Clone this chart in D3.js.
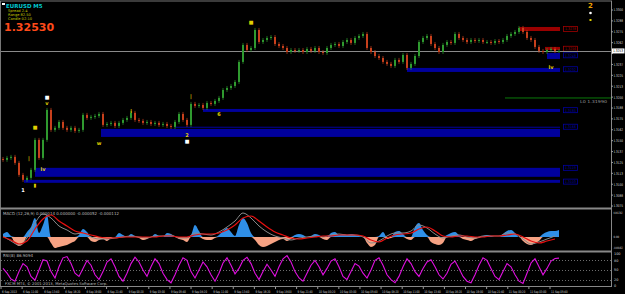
<!DOCTYPE html>
<html><head><meta charset="utf-8">
<script src="https://cdn.jsdelivr.net/npm/d3@7/dist/d3.min.js"></script>
<style>
body{margin:0;background:#000;overflow:hidden}
svg{display:block}
text{font-family:"DejaVu Sans",sans-serif}
</style>
</head><body>
<script>
var W = 625, H = 294;

// EURUSD closes, one per candle
var closes = [1.31280,1.31302,1.31314,1.31245,1.31107,1.31050,1.31073,1.31165,1.31509,1.31302,
1.31509,1.31853,1.31624,1.31647,1.31715,1.31647,1.31624,1.31647,1.31612,1.31624,
1.31796,1.31761,1.31773,1.31784,1.31807,1.31681,1.31692,1.31704,1.31669,1.31704,
1.31738,1.31761,1.31819,1.31738,1.31727,1.31704,1.31715,1.31692,1.31704,1.31681,
1.31692,1.31669,1.31658,1.31715,1.31807,1.31738,1.31681,1.31922,1.31899,1.31910,
1.31876,1.31933,1.31922,1.31956,1.31991,1.32082,1.32105,1.32128,1.32174,1.32404,
1.32599,1.32541,1.32564,1.32771,1.32633,1.32656,1.32679,1.32690,1.32610,1.32587,
1.32564,1.32518,1.32541,1.32530,1.32541,1.32518,1.32553,1.32530,1.32564,1.32518,
1.32507,1.32564,1.32599,1.32610,1.32587,1.32633,1.32656,1.32622,1.32679,1.32702,
1.32725,1.32564,1.32518,1.32472,1.32449,1.32404,1.32381,1.32358,1.32427,1.32404,
1.32484,1.32335,1.32381,1.32472,1.32633,1.32679,1.32702,1.32610,1.32564,1.32518,
1.32599,1.32633,1.32622,1.32725,1.32679,1.32656,1.32633,1.32656,1.32644,1.32656,
1.32633,1.32633,1.32622,1.32644,1.32633,1.32656,1.32702,1.32725,1.32748,1.32794,
1.32748,1.32679,1.32656,1.32576,1.32530,1.32518,1.32541,1.32553,1.32530,1.32530];

var priceTicks = [1.3300,1.32875,1.3275,1.32625,1.3250,1.32375,1.3225,1.32125,1.3200,1.31875,
1.3175,1.31625,1.3150,1.31375,1.3125,1.31125,1.3100,1.30875,1.3075];

var timeLabels = ["6 Sep 2013","6 Sep 11:00","6 Sep 13:40","6 Sep 16:20","6 Sep 19:00","6 Sep 21:40",
"9 Sep 00:20","9 Sep 03:00","9 Sep 05:40","9 Sep 08:20","9 Sep 11:00","9 Sep 13:40","9 Sep 16:20",
"9 Sep 19:00","9 Sep 21:40","10 Sep 00:20","10 Sep 03:00","10 Sep 05:40","10 Sep 08:20","10 Sep 11:00",
"10 Sep 13:40","10 Sep 16:20","10 Sep 19:00","10 Sep 21:40","11 Sep 00:20","11 Sep 03:00","11 Sep 05:40"];

// supply / demand zones: start candle, top, bottom
var blueZones = [[101,1.32335,1.32289],[50,1.31864,1.31830],[24.5,1.31635,1.31543],[43,1.31660,1.31650],
[8,1.31188,1.31085],[5.25,1.31050,1.31016],[136,1.32507,1.32438]];
var redZones = [[129,1.32805,1.32759],[135.5,1.32576,1.32541]];
var zoneBoxes = [[1.32783,"1.3278","#a00000"],[1.32555,"1.3256","#a00000"],[1.32480,"1.3248","#0000a0"],
[1.32320,"1.3232","#0000a0"],[1.31850,"1.3185","#0000a0"],[1.31660,"1.3166","#0000a0"],
[1.31188,"1.3119","#0000a0"],[1.31030,"1.3103","#0000a0"]];

// zigzag / fractal marks: candle, price, glyph, colour
var marks = [[5,1.30935,"1","#fff"],[8,1.30993,"\u25AE","#e0d000"],[10,1.31176,"lv","#e0d000"],
[6.5,1.31302,"|","#e0d000"],[8,1.31658,"\u25A0","#e0d000"],[11,1.32002,"\u25A0","#fff"],
[11,1.31933,"v","#e0d000"],[24,1.31474,"w","#e0d000"],[32,1.31842,"i","#e0d000"],
[46,1.31566,"2","#e0d000"],[46,1.31497,"\u25A0","#fff"],[47,1.32014,"|","#e0d000"],
[54,1.31807,"6","#e0d000"],[62,1.32862,"\u25A0","#e0d000"],[137,1.32346,"lv","#e0d000"]];

var macdHist = [0.00015,0.00025,0.00005,-0.0003,-0.00045,-0.00035,0.00025,0.0005,0.00095,0.0002,
0.0006,0.0011,-0.0003,-0.00055,-0.0005,-0.00045,-0.0004,-0.0003,-0.0002,0.0001,
0.0004,0.00025,-0.0002,-0.00025,-0.00015,-0.0001,-0.0002,-0.00005,0,0.0002,
0.0001,0,0.00015,0.00005,-0.00005,-0.00015,-0.0001,0,0.00015,0.00005,
0,0.0002,0.00015,0,-0.0001,-0.00015,-0.00025,0.0001,0.0006,0.0003,
-0.0001,-0.00015,-0.00015,-0.00005,0.0001,0.0003,0.00045,0.00025,0.00005,0.0006,
0.00095,0.0007,0.0002,-0.00015,-0.0004,-0.0005,-0.00045,-0.00035,-0.00025,-0.00015,
-0.0001,-0.0002,-0.0001,0.0001,0.00015,0.0001,0,0.00005,0.00015,0.0001,
-0.0001,-0.00015,0.0002,0.00025,0.0001,0.00015,0.0001,0.00015,0.0001,0.00005,
0,-0.0003,-0.0005,-0.0004,0.00005,0.00025,-0.0001,-0.00005,0.00025,0.0003,
0.00015,-0.0001,-0.00015,0.0005,0.0007,0.00035,0.0001,-0.00025,-0.00035,-0.0004,
-0.0003,0.0001,0.0002,0.00025,0.0001,-0.0001,-0.00015,-0.0002,-0.0001,-0.00005,
0.00005,0.0001,0.00005,0,0,0.00015,0.0003,0.00035,0.0002,0,
-0.0002,-0.00035,-0.0004,-0.0003,-0.0002,0.00015,0.00025,0.0003,0.0003,0.00035];

var macdMain = [0.00005,-0.0002,-0.0004,-0.00005,0.0007,0.00115,0.00095,0.00055,0.00035,0.00015,
0.0002,0,-0.0001,-0.0001,-0.00005,0,0.00005,0,-0.00005,0.00005,
0.00005,0.0001,-0.00005,-0.00005,0.0002,0.00015,0.0001,0.00025,0.0005,0.0008,
0.0012,0.00095,0.00055,0.00025,0.00005,-0.00005,-0.00015,-0.00005,0,0.00005,
0,0.0001,0.00015,0.0001,0.0001,0,-0.0003,-0.0002,0.00005,0.0002,
0.0002,0.0003,0.0006,0.00045,0.00015,-0.00005,0.00005,0.0001,0,-0.00005,
0.00005,0.00005,0.00005,0.0002,0.00015,-0.0001,-0.00035,-0.00025,-0.0001,0.00005];

var macdSignal = [0,-0.00015,-0.00035,-0.0002,0.0004,0.0009,0.0011,0.0008,0.00055,0.0003,
0.0002,0.0001,0,-0.00005,-0.00005,0,0,0,0,0,
0.00005,0.00005,0,0,0.0001,0.00015,0.00015,0.0002,0.00035,0.0006,
0.00095,0.00105,0.0008,0.0005,0.00025,0.0001,-0.00005,-0.0001,-0.00005,0,
0.00005,0.00005,0.0001,0.0001,0.0001,0.00005,-0.00015,-0.00025,-0.00005,0.0001,
0.00015,0.0002,0.0004,0.0005,0.0003,0.00005,0,0.00005,0.00005,0,
0,0.00005,0.00005,0.0001,0.00015,0,-0.0002,-0.0003,-0.0002,-0.0001];

var rsi = [55,40,22,15,45,70,60,30,18,50,82,78,45,25,60,88,92,70,40,30,
55,80,65,35,20,45,75,85,60,30,15,40,70,90,75,50,30,60,85,70,
40,20,10,35,65,88,80,45,25,50,75,60,35,15,40,72,88,65,38,55,
80,90,70,40,20,45,68,50,30,60,85,95,75,45,25,15,40,65,80,60,
35,55,78,85,60,30,20,45,70,62,40,25,50,80,88,65,35,20,10,30,
60,85,70,45,30,55,75,82,60,35,22,40,68,78,55,30,15,10,35,65,
88,80,55,30,20,45,70,60,35,15,8,40,72,85,60,35,55,78,86,87];
var rsiLevels = [80, 50, 20];
var rsiTicks = [100, 80, 50, 20, 0];
var macdTicks = [[0.0013, "0.001302"], [0, "0.00"], [-0.0006, "-0.000482"]];

var svg = d3.select("body").append("svg").attr("width", W).attr("height", H);
svg.append("rect").attr("width", W).attr("height", H).attr("fill", "#000");

var x = d3.scaleLinear().domain([0, closes.length - 1]).range([3, 559]);
var y = d3.scaleLinear().domain([1.3075, 1.3300]).range([206, 10]);
var xm = d3.scaleLinear().domain([0, macdMain.length - 1]).range([3, 555]);
var xh = d3.scaleLinear().domain([0, macdHist.length - 1]).range([3, 559]);
var ym = d3.scaleLinear().domain([-0.0006, 0.0013]).range([249, 211]);
var xr = d3.scaleLinear().domain([0, rsi.length - 1]).range([3, 559]);
var yr = d3.scaleLinear().domain([0, 100]).range([286, 254]);
var xt = d3.scaleLinear().domain([0, timeLabels.length - 1]).range([1, 550]);

// frame and window separators
svg.append("line").attr("x1", 0).attr("x2", 612).attr("y1", 1).attr("y2", 1).attr("stroke", "#777");
svg.append("line").attr("x1", 0.5).attr("x2", 0.5).attr("y1", 1).attr("y2", 287).attr("stroke", "#777");
svg.append("line").attr("x1", 611.5).attr("x2", 611.5).attr("y1", 1).attr("y2", 287).attr("stroke", "#888");
svg.append("rect").attr("x", 0).attr("y", 207.5).attr("width", 612).attr("height", 2).attr("fill", "#888");
svg.append("rect").attr("x", 0).attr("y", 250.5).attr("width", 612).attr("height", 2).attr("fill", "#888");
svg.append("line").attr("x1", 0).attr("x2", 612).attr("y1", 286.5).attr("y2", 286.5).attr("stroke", "#888");

// zones
var zoneEnd = x(closes.length - 1) + 1;
svg.selectAll("rect.bz").data(blueZones).enter().append("rect").attr("class", "bz")
    .attr("x", function (d) { return x(d[0]); })
    .attr("y", function (d) { return y(d[1]); })
    .attr("width", function (d) { return zoneEnd - x(d[0]); })
    .attr("height", function (d) { return Math.max(1, y(d[2]) - y(d[1])); })
    .attr("fill", "#00009c");
svg.selectAll("rect.rz").data(redZones).enter().append("rect").attr("class", "rz")
    .attr("x", function (d) { return x(d[0]); })
    .attr("y", function (d) { return y(d[1]); })
    .attr("width", function (d) { return zoneEnd - x(d[0]); })
    .attr("height", function (d) { return y(d[2]) - y(d[1]); })
    .attr("fill", "#9a0000");
var zb = svg.selectAll("g.zb").data(zoneBoxes).enter().append("g").attr("class", "zb");
zb.append("rect").attr("x", 563.5).attr("y", function (d) { return y(d[0]) - 2.5; })
    .attr("width", 14).attr("height", 5).attr("fill", "none")
    .attr("stroke", function (d) { return d[2]; }).attr("stroke-width", 0.8);
zb.append("text").attr("x", 565).attr("y", function (d) { return y(d[0]) + 1.4; })
    .attr("font-size", 3.6).attr("textLength", 11).attr("lengthAdjust", "spacingAndGlyphs")
    .attr("fill", function (d) { return d[2]; })
    .text(function (d) { return d[1]; });

// green level line
var lo = 1.31990;
svg.append("line").attr("x1", x(125.5)).attr("x2", 611).attr("y1", y(lo)).attr("y2", y(lo))
    .attr("stroke", "#0a7a0a");
svg.append("text").attr("x", 580).attr("y", y(lo) + 5).attr("font-size", 4)
    .attr("textLength", 27).attr("lengthAdjust", "spacingAndGlyphs").attr("fill", "#999")
    .text("L0  " + lo.toFixed(5));

// current price line
var last = closes[closes.length - 1];
svg.append("line").attr("x1", 1).attr("x2", 611).attr("y1", Math.round(y(last)) + 0.5).attr("y2", Math.round(y(last)) + 0.5)
    .attr("stroke", "#8a8a8a");

// candles
var candles = closes.map(function (c, i) {
    var o = i === 0 ? c + 0.0001 : closes[i - 1];
    return { i: i, o: o, c: c };
});
svg.selectAll("line.wick").data(candles).enter().append("line").attr("class", "wick")
    .attr("x1", function (d) { return x(d.i); }).attr("x2", function (d) { return x(d.i); })
    .attr("y1", function (d) { return y(Math.max(d.o, d.c)) - 2; })
    .attr("y2", function (d) { return y(Math.min(d.o, d.c)) + 2; })
    .attr("stroke", function (d) { return d.c >= d.o ? "#2f9a2f" : "#c8401c"; })
    .attr("stroke-width", 0.7);
svg.selectAll("rect.body").data(candles).enter().append("rect").attr("class", "body")
    .attr("x", function (d) { return x(d.i) - 1; })
    .attr("y", function (d) { return y(Math.max(d.o, d.c)); })
    .attr("width", 2)
    .attr("height", function (d) { return Math.max(1, Math.abs(y(d.o) - y(d.c))); })
    .attr("fill", function (d) { return d.c >= d.o ? "#2f9a2f" : "#c8401c"; });

// marks
svg.selectAll("text.mk").data(marks).enter().append("text").attr("class", "mk")
    .attr("x", function (d) { return x(d[0]); })
    .attr("y", function (d) { return y(d[1]) + 2; })
    .attr("text-anchor", "middle").attr("font-size", 5).attr("font-weight", "bold")
    .attr("fill", function (d) { return d[3]; })
    .text(function (d) { return d[2]; });

// header texts
svg.append("rect").attr("x", 2).attr("y", 3).attr("width", 3).attr("height", 2).attr("fill", "#fff");
svg.append("text").attr("x", 6).attr("y", 7.5).attr("font-size", 5.5).attr("font-weight", "bold")
    .attr("fill", "#00c8d0").text("EURUSD   M5");
var info = ["Spread  2.4", "Range  82.50", "Candle  02:10"];
svg.selectAll("text.info").data(info).enter().append("text").attr("class", "info")
    .attr("x", 8).attr("y", function (d, i) { return 11.5 + i * 4; })
    .attr("font-size", 3.6).attr("fill", "#c8c800").text(function (d) { return d; });
svg.append("text").attr("x", 4).attr("y", 31).attr("font-size", 11).attr("font-weight", "bold")
    .attr("fill", "#ff4a1a").attr("font-family", "Liberation Sans, Arial, sans-serif")
    .text(last.toFixed(5));
svg.append("text").attr("x", 590.5).attr("y", 8).attr("text-anchor", "middle").attr("font-size", 7)
    .attr("font-weight", "bold").attr("fill", "#f0a000").text("2");
svg.append("circle").attr("cx", 590.5).attr("cy", 13).attr("r", 1.3).attr("fill", "#fff");
svg.append("rect").attr("x", 589.5).attr("y", 19).attr("width", 2).attr("height", 2).attr("fill", "#e0d000");

// price axis
var shownTicks = priceTicks.filter(function (d) { return Math.abs(y(d) - y(last)) > 4; });
svg.selectAll("text.pt").data(shownTicks).enter().append("text").attr("class", "pt")
    .attr("x", 613.5).attr("y", function (d) { return y(d) + 1.4; })
    .attr("font-size", 3.6).attr("textLength", 9.5).attr("lengthAdjust", "spacingAndGlyphs")
    .attr("fill", "#ddd")
    .text(function (d) { return d.toFixed(4); });
svg.selectAll("line.ptk").data(priceTicks).enter().append("line").attr("class", "ptk")
    .attr("x1", 611).attr("x2", 613).attr("y1", function (d) { return y(d); }).attr("y2", function (d) { return y(d); })
    .attr("stroke", "#999");
svg.append("rect").attr("x", 612).attr("y", y(last) - 2.5).attr("width", 12.5).attr("height", 5).attr("fill", "#fff");
svg.append("text").attr("x", 613).attr("y", y(last) + 1.5).attr("font-size", 3.6)
    .attr("textLength", 10).attr("lengthAdjust", "spacingAndGlyphs").attr("fill", "#000")
    .text(last.toFixed(4));

// MACD window
svg.append("text").attr("x", 3).attr("y", 214.5).attr("font-size", 4).attr("fill", "#bbb")
    .text("MACD (12,26,9)  0.000014  0.000000  -0.000052  -0.000112");
svg.append("path").datum(macdHist)
    .attr("d", d3.area().x(function (d, i) { return xh(i); }).y0(ym(0))
        .y1(function (d) { return ym(Math.max(0, d)); }).curve(d3.curveMonotoneX))
    .attr("fill", "#2f8fe8");
svg.append("path").datum(macdHist)
    .attr("d", d3.area().x(function (d, i) { return xh(i); }).y0(ym(0))
        .y1(function (d) { return ym(Math.min(0, d)); }).curve(d3.curveMonotoneX))
    .attr("fill", "#f6a283");
svg.append("path").datum(macdMain)
    .attr("d", d3.line().x(function (d, i) { return xm(i); }).y(function (d) { return ym(d); }).curve(d3.curveMonotoneX))
    .attr("fill", "none").attr("stroke", "#8a8a8a").attr("stroke-width", 1);
svg.append("path").datum(macdSignal)
    .attr("d", d3.line().x(function (d, i) { return xm(i); }).y(function (d) { return ym(d); }).curve(d3.curveMonotoneX))
    .attr("fill", "none").attr("stroke", "#e81010").attr("stroke-width", 1.2);
// labels kept clear of the window separator bars
svg.selectAll("text.mt").data(macdTicks).enter().append("text").attr("class", "mt")
    .attr("x", 613.5).attr("y", function (d) { return Math.min(248.5, Math.max(213.8, ym(d[0]) + 1.4)); })
    .attr("font-size", 3.2).attr("textLength", function (d) { return Math.min(9, d[1].length * 1.4); })
    .attr("lengthAdjust", "spacingAndGlyphs")
    .attr("fill", "#ddd").text(function (d) { return d[1]; });

// RSI window
svg.append("text").attr("x", 3).attr("y", 256.5).attr("font-size", 4).attr("fill", "#bbb")
    .text("RSI(8) 86.9094");
svg.selectAll("line.lvl").data(rsiLevels).enter().append("line").attr("class", "lvl")
    .attr("x1", 1).attr("x2", 611).attr("y1", function (d) { return Math.round(yr(d)) + 0.5; })
    .attr("y2", function (d) { return Math.round(yr(d)) + 0.5; })
    .attr("stroke", "#888").attr("stroke-dasharray", "1,2").attr("stroke-width", 0.8);
svg.append("path").datum(rsi)
    .attr("d", d3.line().x(function (d, i) { return xr(i); }).y(function (d) { return yr(d); }))
    .attr("fill", "none").attr("stroke", "#e010e0").attr("stroke-width", 1.1);
svg.append("text").attr("x", 5).attr("y", 285).attr("font-size", 3.8).attr("fill", "#bbb")
    .text("FXCM MT4, \u00A9 2001-2013, MetaQuotes Software Corp.");
svg.selectAll("text.rt").data(rsiTicks).enter().append("text").attr("class", "rt")
    .attr("x", 614).attr("y", function (d) { return yr(d) + 1.4; })
    .attr("font-size", 3.4).attr("fill", "#ddd").text(function (d) { return d; });

// time axis
svg.selectAll("line.tt").data(timeLabels).enter().append("line").attr("class", "tt")
    .attr("x1", function (d, i) { return xt(i); }).attr("x2", function (d, i) { return xt(i); })
    .attr("y1", 287).attr("y2", 289).attr("stroke", "#999");
svg.selectAll("text.tl").data(timeLabels).enter().append("text").attr("class", "tl")
    .attr("x", function (d, i) { return xt(i) + 1; }).attr("y", 292.5)
    .attr("font-size", 3.4).attr("textLength", function (d) { return d.length > 11 ? 16.5 : 15; })
    .attr("lengthAdjust", "spacingAndGlyphs")
    .attr("fill", "#ddd").text(function (d) { return d; });
</script>
</body></html>
